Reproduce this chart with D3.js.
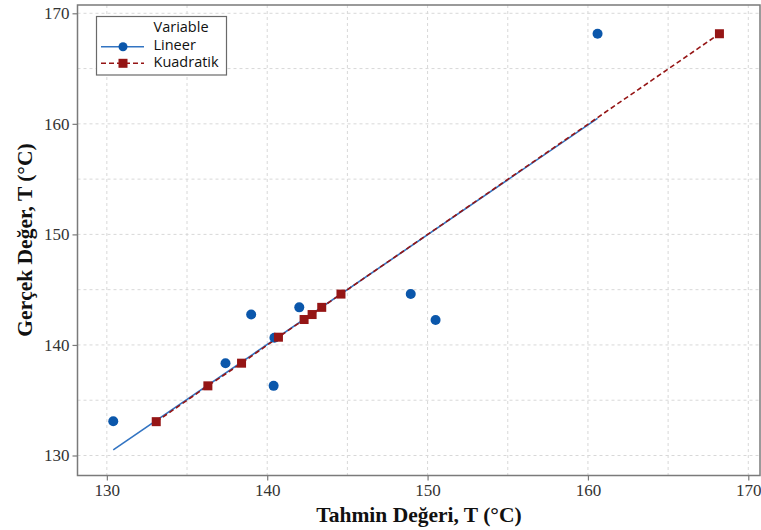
<!DOCTYPE html>
<html>
<head>
<meta charset="utf-8">
<script src="https://cdn.jsdelivr.net/npm/d3@7"></script>
<style>
	body { margin: 0; background: #fff; }
	.grid line { stroke: #d8d8d8; stroke-dasharray: 3,3; stroke-width: 1; }
	.tick-label { font-family: "Liberation Serif", "Times New Roman", serif; font-size: 17px; fill: #333; }
	.axis-title { font-family: "Liberation Serif", "Times New Roman", serif; font-size: 21.5px; font-weight: bold; fill: #111; }
	.legend text { font-family: "Open Sans", "DejaVu Sans", sans-serif; font-size: 14.5px; fill: #111; }
</style>
</head>
<body>
<div class="chart"></div>
<script>
// DATA
var xTicks = [130, 140, 150, 160, 170];
var yTicks = [130, 140, 150, 160, 170];
var gridVals = [130, 135, 140, 145, 150, 155, 160, 165, 170];

// Lineer: points (tahmin, gercek) and its fitted line
var lineerX = [130.4, 137.4, 139.0, 140.45, 140.4, 142.0, 148.95, 150.5, 160.6];
var lineerY = [133.1, 138.35, 142.75, 140.65, 136.3, 143.4, 144.6, 142.25, 168.15];
var lineerFitX = [130.4, 160.6];
var lineerFitY = [130.5, 160.5];

// Kuadratik: points
var kuadX = [133.08, 136.3, 138.4, 140.7, 142.3, 142.8, 143.4, 144.6, 168.2];
var kuadY = [133.06, 136.3, 138.35, 140.7, 142.3, 142.75, 143.4, 144.6, 168.15];

var blue = "#0b57ab", blueLine = "#3274c2", red = "#951515";

// SETUP
var W = 761, H = 530;
var plot = { left: 77.5, top: 5, right: 760, bottom: 475.5 };

var svg = d3.select(".chart").append("svg")
	.attr("width", W)
	.attr("height", H);

var x = d3.scaleLinear().domain([128.17, 170.73]).range([plot.left, plot.right]);
var y = d3.scaleLinear().domain([128.19, 170.75]).range([plot.bottom, plot.top]);

// grid
var grid = svg.append("g").attr("class", "grid");
grid.selectAll(".gx").data(gridVals).enter().append("line")
	.attr("x1", function(d) { return x(d); })
	.attr("x2", function(d) { return x(d); })
	.attr("y1", plot.top)
	.attr("y2", plot.bottom);
grid.selectAll(".gy").data(gridVals).enter().append("line")
	.attr("x1", plot.left)
	.attr("x2", plot.right)
	.attr("y1", function(d) { return y(d); })
	.attr("y2", function(d) { return y(d); });

// frame
svg.append("rect")
	.attr("x", plot.left)
	.attr("y", plot.top)
	.attr("width", plot.right - plot.left)
	.attr("height", plot.bottom - plot.top)
	.attr("fill", "none")
	.attr("stroke", "#7a7a7a")
	.attr("stroke-width", 1.5);

// axes
var xAxis = svg.append("g")
	.attr("transform", "translate(0," + plot.bottom + ")")
	.call(d3.axisBottom(x).tickValues(xTicks).tickSize(5).tickFormat(d3.format("d")));
var yAxis = svg.append("g")
	.attr("transform", "translate(" + plot.left + ",0)")
	.call(d3.axisLeft(y).tickValues(yTicks).tickSize(5).tickFormat(d3.format("d")));
[xAxis, yAxis].forEach(function(a) {
	a.select(".domain").remove();
	a.selectAll(".tick line").attr("stroke", "#7a7a7a").attr("stroke-width", 1.2);
	a.selectAll(".tick text").attr("class", "tick-label").attr("fill", null)
		.attr("font-family", null).attr("font-size", null);
});
xAxis.selectAll(".tick text").attr("dy", null).attr("y", 20);
yAxis.selectAll(".tick text").attr("x", -8);

// axis titles
svg.append("text")
	.attr("class", "axis-title")
	.attr("x", 419)
	.attr("y", 522)
	.attr("text-anchor", "middle")
	.text("Tahmin Değeri, T (°C)");
svg.append("text")
	.attr("class", "axis-title")
	.attr("transform", "translate(32,240) rotate(-90)")
	.attr("text-anchor", "middle")
	.text("Gerçek Değer, T (°C)");

// lines
var line = d3.line()
	.x(function(d) { return x(d[0]); })
	.y(function(d) { return y(d[1]); });

svg.append("path")
	.attr("d", line(d3.zip(lineerFitX, lineerFitY)))
	.attr("fill", "none")
	.attr("stroke", blueLine)
	.attr("stroke-width", 1.6);

var kuadPts = d3.zip(kuadX, kuadY).sort(function(a, b) { return a[0] - b[0]; });
svg.append("path")
	.attr("d", line(kuadPts))
	.attr("fill", "none")
	.attr("stroke", red)
	.attr("stroke-width", 1.6)
	.attr("stroke-dasharray", "5,3");

// markers
svg.selectAll(".pt-lin")
	.data(d3.zip(lineerX, lineerY))
	.enter().append("circle")
		.attr("cx", function(d) { return x(d[0]); })
		.attr("cy", function(d) { return y(d[1]); })
		.attr("r", 5)
		.attr("fill", blue);

var sq = 9;
svg.selectAll(".pt-kuad")
	.data(kuadPts)
	.enter().append("rect")
		.attr("x", function(d) { return x(d[0]) - sq / 2; })
		.attr("y", function(d) { return y(d[1]) - sq / 2; })
		.attr("width", sq)
		.attr("height", sq)
		.attr("fill", red);

// legend
var legend = svg.append("g").attr("class", "legend");
legend.append("rect")
	.attr("x", 96.5)
	.attr("y", 16.5)
	.attr("width", 130)
	.attr("height", 58.5)
	.attr("fill", "#fff")
	.attr("stroke", "#6a6a6a")
	.attr("stroke-width", 1.2);
legend.append("text").attr("x", 153.5).attr("y", 32).text("Variable");
legend.append("text").attr("x", 153.5).attr("y", 49.5).text("Lineer");
legend.append("text").attr("x", 153.5).attr("y", 67).text("Kuadratik");

legend.append("line")
	.attr("x1", 101).attr("x2", 144).attr("y1", 46.7).attr("y2", 46.7)
	.attr("stroke", blueLine).attr("stroke-width", 1.6);
legend.append("circle")
	.attr("cx", 123).attr("cy", 46.7).attr("r", 4.5).attr("fill", blue);
legend.append("line")
	.attr("x1", 101).attr("x2", 144).attr("y1", 63.3).attr("y2", 63.3)
	.attr("stroke", red).attr("stroke-width", 1.6).attr("stroke-dasharray", "5,3");
legend.append("rect")
	.attr("x", 123 - 4.5).attr("y", 63.3 - 4.5).attr("width", 9).attr("height", 9).attr("fill", red);
</script>
</body>
</html>
